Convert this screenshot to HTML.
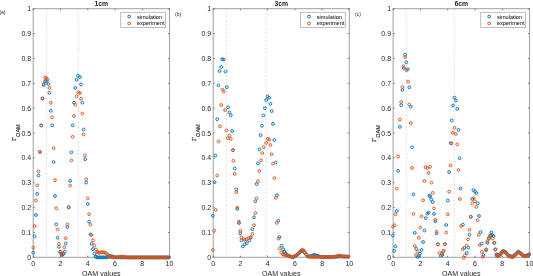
<!DOCTYPE html>
<html><head><meta charset="utf-8"><style>
html,body{margin:0;padding:0;background:#fff;width:533px;height:276px;overflow:hidden}
svg{display:block;font-family:"Liberation Sans", sans-serif;will-change:transform}
</style></head><body>
<svg width="533" height="276" viewBox="0 0 533 276">
<rect x="0" y="0" width="533" height="276" fill="#ffffff"/>
<g><line x1="46.69" y1="8.70" x2="46.69" y2="257.30" stroke="#d4d4d4" stroke-width="0.75" stroke-dasharray="2.0,1.9"/>
<line x1="78.32" y1="8.70" x2="78.32" y2="257.30" stroke="#d4d4d4" stroke-width="0.75" stroke-dasharray="2.0,1.9"/>
<rect x="33.20" y="8.70" width="136.30" height="248.60" fill="none" stroke="#a0a0a0" stroke-width="1"/>
<line x1="33.20" y1="257.30" x2="34.80" y2="257.30" stroke="#707070" stroke-width="0.9"/>
<line x1="169.50" y1="257.30" x2="167.90" y2="257.30" stroke="#707070" stroke-width="0.9"/>
<line x1="33.20" y1="232.44" x2="34.80" y2="232.44" stroke="#707070" stroke-width="0.9"/>
<line x1="169.50" y1="232.44" x2="167.90" y2="232.44" stroke="#707070" stroke-width="0.9"/>
<line x1="33.20" y1="207.58" x2="34.80" y2="207.58" stroke="#707070" stroke-width="0.9"/>
<line x1="169.50" y1="207.58" x2="167.90" y2="207.58" stroke="#707070" stroke-width="0.9"/>
<line x1="33.20" y1="182.72" x2="34.80" y2="182.72" stroke="#707070" stroke-width="0.9"/>
<line x1="169.50" y1="182.72" x2="167.90" y2="182.72" stroke="#707070" stroke-width="0.9"/>
<line x1="33.20" y1="157.86" x2="34.80" y2="157.86" stroke="#707070" stroke-width="0.9"/>
<line x1="169.50" y1="157.86" x2="167.90" y2="157.86" stroke="#707070" stroke-width="0.9"/>
<line x1="33.20" y1="133.00" x2="34.80" y2="133.00" stroke="#707070" stroke-width="0.9"/>
<line x1="169.50" y1="133.00" x2="167.90" y2="133.00" stroke="#707070" stroke-width="0.9"/>
<line x1="33.20" y1="108.14" x2="34.80" y2="108.14" stroke="#707070" stroke-width="0.9"/>
<line x1="169.50" y1="108.14" x2="167.90" y2="108.14" stroke="#707070" stroke-width="0.9"/>
<line x1="33.20" y1="83.28" x2="34.80" y2="83.28" stroke="#707070" stroke-width="0.9"/>
<line x1="169.50" y1="83.28" x2="167.90" y2="83.28" stroke="#707070" stroke-width="0.9"/>
<line x1="33.20" y1="58.42" x2="34.80" y2="58.42" stroke="#707070" stroke-width="0.9"/>
<line x1="169.50" y1="58.42" x2="167.90" y2="58.42" stroke="#707070" stroke-width="0.9"/>
<line x1="33.20" y1="33.56" x2="34.80" y2="33.56" stroke="#707070" stroke-width="0.9"/>
<line x1="169.50" y1="33.56" x2="167.90" y2="33.56" stroke="#707070" stroke-width="0.9"/>
<line x1="33.20" y1="8.70" x2="34.80" y2="8.70" stroke="#707070" stroke-width="0.9"/>
<line x1="169.50" y1="8.70" x2="167.90" y2="8.70" stroke="#707070" stroke-width="0.9"/>
<line x1="33.20" y1="257.30" x2="33.20" y2="255.70" stroke="#707070" stroke-width="0.9"/>
<line x1="33.20" y1="8.70" x2="33.20" y2="10.30" stroke="#707070" stroke-width="0.9"/>
<line x1="60.46" y1="257.30" x2="60.46" y2="255.70" stroke="#707070" stroke-width="0.9"/>
<line x1="60.46" y1="8.70" x2="60.46" y2="10.30" stroke="#707070" stroke-width="0.9"/>
<line x1="87.72" y1="257.30" x2="87.72" y2="255.70" stroke="#707070" stroke-width="0.9"/>
<line x1="87.72" y1="8.70" x2="87.72" y2="10.30" stroke="#707070" stroke-width="0.9"/>
<line x1="114.98" y1="257.30" x2="114.98" y2="255.70" stroke="#707070" stroke-width="0.9"/>
<line x1="114.98" y1="8.70" x2="114.98" y2="10.30" stroke="#707070" stroke-width="0.9"/>
<line x1="142.24" y1="257.30" x2="142.24" y2="255.70" stroke="#707070" stroke-width="0.9"/>
<line x1="142.24" y1="8.70" x2="142.24" y2="10.30" stroke="#707070" stroke-width="0.9"/>
<line x1="169.50" y1="257.30" x2="169.50" y2="255.70" stroke="#707070" stroke-width="0.9"/>
<line x1="169.50" y1="8.70" x2="169.50" y2="10.30" stroke="#707070" stroke-width="0.9"/>
<text x="31.20" y="259.90" text-anchor="end" font-size="7" fill="#262626">0</text>
<text x="31.20" y="235.04" text-anchor="end" font-size="7" fill="#262626">0.1</text>
<text x="31.20" y="210.18" text-anchor="end" font-size="7" fill="#262626">0.2</text>
<text x="31.20" y="185.32" text-anchor="end" font-size="7" fill="#262626">0.3</text>
<text x="31.20" y="160.46" text-anchor="end" font-size="7" fill="#262626">0.4</text>
<text x="31.20" y="135.60" text-anchor="end" font-size="7" fill="#262626">0.5</text>
<text x="31.20" y="110.74" text-anchor="end" font-size="7" fill="#262626">0.6</text>
<text x="31.20" y="85.88" text-anchor="end" font-size="7" fill="#262626">0.7</text>
<text x="31.20" y="61.02" text-anchor="end" font-size="7" fill="#262626">0.8</text>
<text x="31.20" y="36.16" text-anchor="end" font-size="7" fill="#262626">0.9</text>
<text x="31.20" y="11.30" text-anchor="end" font-size="7" fill="#262626">1</text>
<text x="33.20" y="266.00" text-anchor="middle" font-size="7" fill="#262626">0</text>
<text x="60.46" y="266.00" text-anchor="middle" font-size="7" fill="#262626">2</text>
<text x="87.72" y="266.00" text-anchor="middle" font-size="7" fill="#262626">4</text>
<text x="114.98" y="266.00" text-anchor="middle" font-size="7" fill="#262626">6</text>
<text x="142.24" y="266.00" text-anchor="middle" font-size="7" fill="#262626">8</text>
<text x="169.50" y="266.00" text-anchor="middle" font-size="7" fill="#262626">10</text>
<text x="101.35" y="275.5" text-anchor="middle" font-size="7.1" fill="#262626">OAM values</text>
<text x="101.35" y="5.5" text-anchor="middle" font-size="6.8" font-weight="bold" fill="#202020">1cm</text>
<g transform="translate(16.10,140.90) rotate(-90)"><text x="-0.2" y="0.1" font-size="6.6" font-family="Liberation Serif, serif" fill="#262626" stroke="#262626" stroke-width="0.2">Γ</text><text x="4.0" y="4.0" font-size="5.5" fill="#262626" stroke="#262626" stroke-width="0.1">OAM</text></g>
<text x="-0.60" y="14.10" font-size="5.0" fill="#262626">(a)</text>
<g fill="none" stroke="#0072BD" stroke-width="0.95"><circle cx="33.30" cy="252.60" r="1.4"/><circle cx="34.60" cy="236.30" r="1.4"/><circle cx="35.90" cy="215.00" r="1.4"/><circle cx="37.20" cy="193.80" r="1.4"/><circle cx="38.50" cy="175.60" r="1.4"/><circle cx="39.90" cy="151.80" r="1.4"/><circle cx="41.20" cy="125.40" r="1.4"/><circle cx="42.50" cy="98.50" r="1.4"/><circle cx="43.80" cy="85.00" r="1.4"/><circle cx="45.10" cy="81.10" r="1.4"/><circle cx="46.50" cy="81.40" r="1.4"/><circle cx="48.40" cy="84.00" r="1.4"/><circle cx="49.40" cy="92.90" r="1.4"/><circle cx="50.80" cy="110.80" r="1.4"/><circle cx="52.20" cy="125.30" r="1.4"/><circle cx="53.60" cy="162.10" r="1.4"/><circle cx="55.00" cy="196.00" r="1.4"/><circle cx="56.30" cy="224.40" r="1.4"/><circle cx="57.60" cy="237.75" r="1.4"/><circle cx="58.90" cy="246.80" r="1.4"/><circle cx="60.20" cy="252.00" r="1.4"/><circle cx="61.50" cy="254.50" r="1.4"/><circle cx="62.20" cy="255.00" r="1.4"/><circle cx="63.50" cy="254.00" r="1.4"/><circle cx="64.80" cy="251.70" r="1.4"/><circle cx="65.70" cy="243.40" r="1.4"/><circle cx="67.40" cy="227.10" r="1.4"/><circle cx="68.70" cy="207.30" r="1.4"/><circle cx="70.10" cy="180.90" r="1.4"/><circle cx="71.40" cy="152.30" r="1.4"/><circle cx="72.70" cy="125.30" r="1.4"/><circle cx="74.00" cy="102.70" r="1.4"/><circle cx="75.30" cy="88.00" r="1.4"/><circle cx="76.60" cy="79.80" r="1.4"/><circle cx="77.90" cy="75.60" r="1.4"/><circle cx="79.90" cy="77.10" r="1.4"/><circle cx="81.00" cy="84.40" r="1.4"/><circle cx="82.30" cy="102.70" r="1.4"/><circle cx="83.60" cy="129.50" r="1.4"/><circle cx="85.20" cy="159.20" r="1.4"/><circle cx="86.20" cy="182.60" r="1.4"/><circle cx="87.80" cy="203.90" r="1.4"/><circle cx="89.10" cy="221.60" r="1.4"/><circle cx="90.40" cy="234.40" r="1.4"/><circle cx="91.70" cy="243.90" r="1.4"/><circle cx="93.00" cy="249.00" r="1.4"/><circle cx="94.40" cy="253.60" r="1.4"/><circle cx="95.70" cy="256.30" r="1.4"/><circle cx="95.70" cy="256.70" r="1.4"/><circle cx="97.06" cy="257.40" r="1.4"/><circle cx="98.42" cy="257.40" r="1.4"/><circle cx="99.78" cy="257.40" r="1.4"/><circle cx="101.14" cy="257.40" r="1.4"/><circle cx="102.50" cy="257.40" r="1.4"/><circle cx="103.86" cy="257.40" r="1.4"/><circle cx="105.22" cy="257.40" r="1.4"/><circle cx="106.58" cy="257.40" r="1.4"/><circle cx="107.94" cy="257.05" r="1.4"/><circle cx="109.30" cy="256.54" r="1.4"/><circle cx="110.66" cy="256.03" r="1.4"/><circle cx="112.02" cy="256.28" r="1.4"/><circle cx="113.38" cy="256.79" r="1.4"/><circle cx="114.74" cy="257.30" r="1.4"/><circle cx="116.10" cy="257.40" r="1.4"/><circle cx="117.46" cy="257.40" r="1.4"/><circle cx="118.82" cy="257.40" r="1.4"/><circle cx="120.18" cy="257.40" r="1.4"/><circle cx="121.54" cy="257.40" r="1.4"/><circle cx="122.90" cy="257.40" r="1.4"/><circle cx="124.26" cy="257.40" r="1.4"/><circle cx="125.62" cy="257.40" r="1.4"/><circle cx="126.98" cy="257.40" r="1.4"/><circle cx="128.34" cy="257.40" r="1.4"/><circle cx="129.70" cy="257.40" r="1.4"/><circle cx="131.06" cy="257.40" r="1.4"/><circle cx="132.42" cy="257.40" r="1.4"/><circle cx="133.78" cy="257.40" r="1.4"/><circle cx="135.14" cy="257.40" r="1.4"/><circle cx="136.50" cy="257.40" r="1.4"/><circle cx="137.86" cy="257.40" r="1.4"/><circle cx="139.22" cy="257.40" r="1.4"/><circle cx="140.58" cy="257.40" r="1.4"/><circle cx="141.94" cy="257.40" r="1.4"/><circle cx="143.30" cy="257.40" r="1.4"/><circle cx="144.66" cy="257.40" r="1.4"/><circle cx="146.02" cy="257.40" r="1.4"/><circle cx="147.38" cy="257.40" r="1.4"/><circle cx="148.74" cy="257.40" r="1.4"/><circle cx="150.10" cy="257.40" r="1.4"/><circle cx="151.46" cy="257.40" r="1.4"/><circle cx="152.82" cy="257.40" r="1.4"/><circle cx="154.18" cy="257.40" r="1.4"/><circle cx="155.54" cy="257.40" r="1.4"/><circle cx="156.90" cy="257.40" r="1.4"/><circle cx="158.26" cy="257.40" r="1.4"/><circle cx="159.62" cy="257.40" r="1.4"/><circle cx="160.98" cy="257.40" r="1.4"/><circle cx="162.34" cy="257.40" r="1.4"/><circle cx="163.70" cy="257.40" r="1.4"/><circle cx="165.06" cy="257.40" r="1.4"/><circle cx="166.42" cy="257.40" r="1.4"/><circle cx="167.78" cy="257.40" r="1.4"/><circle cx="169.14" cy="257.40" r="1.4"/></g>
<g fill="none" stroke="#D95319" stroke-width="0.95"><circle cx="33.30" cy="247.70" r="1.4"/><circle cx="34.60" cy="226.00" r="1.4"/><circle cx="35.90" cy="200.40" r="1.4"/><circle cx="37.20" cy="185.40" r="1.4"/><circle cx="38.50" cy="171.30" r="1.4"/><circle cx="39.90" cy="152.00" r="1.4"/><circle cx="41.20" cy="125.40" r="1.4"/><circle cx="42.50" cy="98.50" r="1.4"/><circle cx="43.80" cy="84.00" r="1.4"/><circle cx="45.10" cy="77.50" r="1.4"/><circle cx="46.40" cy="78.50" r="1.4"/><circle cx="47.70" cy="79.50" r="1.4"/><circle cx="49.40" cy="88.00" r="1.4"/><circle cx="50.80" cy="102.70" r="1.4"/><circle cx="52.10" cy="117.30" r="1.4"/><circle cx="53.60" cy="148.20" r="1.4"/><circle cx="55.00" cy="180.20" r="1.4"/><circle cx="56.30" cy="208.20" r="1.4"/><circle cx="57.60" cy="229.40" r="1.4"/><circle cx="58.90" cy="243.80" r="1.4"/><circle cx="60.20" cy="251.70" r="1.4"/><circle cx="61.50" cy="253.60" r="1.4"/><circle cx="63.10" cy="253.40" r="1.4"/><circle cx="64.40" cy="247.30" r="1.4"/><circle cx="65.70" cy="238.30" r="1.4"/><circle cx="67.40" cy="224.40" r="1.4"/><circle cx="68.70" cy="207.30" r="1.4"/><circle cx="70.10" cy="185.50" r="1.4"/><circle cx="71.40" cy="160.50" r="1.4"/><circle cx="72.70" cy="136.80" r="1.4"/><circle cx="74.00" cy="116.00" r="1.4"/><circle cx="75.30" cy="104.70" r="1.4"/><circle cx="76.60" cy="96.30" r="1.4"/><circle cx="78.30" cy="92.30" r="1.4"/><circle cx="79.90" cy="93.00" r="1.4"/><circle cx="81.00" cy="98.70" r="1.4"/><circle cx="82.30" cy="113.60" r="1.4"/><circle cx="83.60" cy="134.40" r="1.4"/><circle cx="84.90" cy="155.50" r="1.4"/><circle cx="86.20" cy="179.20" r="1.4"/><circle cx="87.80" cy="198.40" r="1.4"/><circle cx="89.10" cy="214.20" r="1.4"/><circle cx="90.40" cy="224.70" r="1.4"/><circle cx="91.50" cy="235.00" r="1.4"/><circle cx="93.00" cy="240.30" r="1.4"/><circle cx="94.40" cy="245.50" r="1.4"/><circle cx="96.00" cy="249.50" r="1.4"/><circle cx="97.50" cy="251.70" r="1.4"/><circle cx="97.50" cy="252.30" r="1.4"/><circle cx="98.86" cy="252.84" r="1.4"/><circle cx="100.22" cy="252.58" r="1.4"/><circle cx="101.58" cy="252.27" r="1.4"/><circle cx="102.94" cy="252.15" r="1.4"/><circle cx="104.30" cy="252.41" r="1.4"/><circle cx="105.66" cy="252.95" r="1.4"/><circle cx="107.02" cy="254.22" r="1.4"/><circle cx="108.38" cy="255.58" r="1.4"/><circle cx="109.74" cy="256.44" r="1.4"/><circle cx="111.10" cy="257.08" r="1.4"/><circle cx="112.46" cy="257.48" r="1.4"/><circle cx="113.82" cy="257.41" r="1.4"/><circle cx="115.18" cy="257.34" r="1.4"/><circle cx="116.54" cy="257.27" r="1.4"/><circle cx="117.90" cy="257.21" r="1.4"/><circle cx="119.26" cy="256.97" r="1.4"/><circle cx="120.62" cy="256.71" r="1.4"/><circle cx="121.98" cy="256.46" r="1.4"/><circle cx="123.34" cy="256.64" r="1.4"/><circle cx="124.70" cy="256.96" r="1.4"/><circle cx="126.06" cy="257.28" r="1.4"/><circle cx="127.42" cy="257.50" r="1.4"/><circle cx="128.78" cy="257.50" r="1.4"/><circle cx="130.14" cy="257.50" r="1.4"/><circle cx="131.50" cy="257.50" r="1.4"/><circle cx="132.86" cy="257.50" r="1.4"/><circle cx="134.22" cy="257.50" r="1.4"/><circle cx="135.58" cy="257.50" r="1.4"/><circle cx="136.94" cy="257.50" r="1.4"/><circle cx="138.30" cy="257.50" r="1.4"/><circle cx="139.66" cy="257.50" r="1.4"/><circle cx="141.02" cy="257.50" r="1.4"/><circle cx="142.38" cy="257.50" r="1.4"/><circle cx="143.74" cy="257.50" r="1.4"/><circle cx="145.10" cy="257.50" r="1.4"/><circle cx="146.46" cy="257.50" r="1.4"/><circle cx="147.82" cy="257.50" r="1.4"/><circle cx="149.18" cy="257.50" r="1.4"/><circle cx="150.54" cy="257.50" r="1.4"/><circle cx="151.90" cy="257.50" r="1.4"/><circle cx="153.26" cy="257.50" r="1.4"/><circle cx="154.62" cy="257.50" r="1.4"/><circle cx="155.98" cy="257.50" r="1.4"/><circle cx="157.34" cy="257.50" r="1.4"/><circle cx="158.70" cy="257.50" r="1.4"/><circle cx="160.06" cy="257.50" r="1.4"/><circle cx="161.42" cy="257.50" r="1.4"/><circle cx="162.78" cy="257.50" r="1.4"/><circle cx="164.14" cy="257.50" r="1.4"/><circle cx="165.50" cy="257.50" r="1.4"/><circle cx="166.86" cy="257.50" r="1.4"/><circle cx="168.22" cy="257.50" r="1.4"/></g>
<rect x="120.70" y="12.30" width="44.8" height="15.1" fill="#ffffff" stroke="#b0b0b0" stroke-width="0.8"/>
<circle cx="129.20" cy="16.5" r="1.4" fill="none" stroke="#0072BD" stroke-width="0.95"/>
<circle cx="129.20" cy="23.4" r="1.4" fill="none" stroke="#D95319" stroke-width="0.95"/>
<text x="136.90" y="18.5" font-size="5.6" fill="#262626" stroke="#262626" stroke-width="0.06">simulation</text>
<text x="136.90" y="25.4" font-size="5.6" fill="#262626" stroke="#262626" stroke-width="0.06">experiment</text></g>
<g><line x1="226.40" y1="8.70" x2="226.40" y2="257.30" stroke="#d4d4d4" stroke-width="0.75" stroke-dasharray="2.0,1.9"/>
<line x1="266.14" y1="8.70" x2="266.14" y2="257.30" stroke="#d4d4d4" stroke-width="0.75" stroke-dasharray="2.0,1.9"/>
<rect x="213.20" y="8.70" width="136.10" height="248.60" fill="none" stroke="#a0a0a0" stroke-width="1"/>
<line x1="213.20" y1="257.30" x2="214.80" y2="257.30" stroke="#707070" stroke-width="0.9"/>
<line x1="349.30" y1="257.30" x2="347.70" y2="257.30" stroke="#707070" stroke-width="0.9"/>
<line x1="213.20" y1="232.44" x2="214.80" y2="232.44" stroke="#707070" stroke-width="0.9"/>
<line x1="349.30" y1="232.44" x2="347.70" y2="232.44" stroke="#707070" stroke-width="0.9"/>
<line x1="213.20" y1="207.58" x2="214.80" y2="207.58" stroke="#707070" stroke-width="0.9"/>
<line x1="349.30" y1="207.58" x2="347.70" y2="207.58" stroke="#707070" stroke-width="0.9"/>
<line x1="213.20" y1="182.72" x2="214.80" y2="182.72" stroke="#707070" stroke-width="0.9"/>
<line x1="349.30" y1="182.72" x2="347.70" y2="182.72" stroke="#707070" stroke-width="0.9"/>
<line x1="213.20" y1="157.86" x2="214.80" y2="157.86" stroke="#707070" stroke-width="0.9"/>
<line x1="349.30" y1="157.86" x2="347.70" y2="157.86" stroke="#707070" stroke-width="0.9"/>
<line x1="213.20" y1="133.00" x2="214.80" y2="133.00" stroke="#707070" stroke-width="0.9"/>
<line x1="349.30" y1="133.00" x2="347.70" y2="133.00" stroke="#707070" stroke-width="0.9"/>
<line x1="213.20" y1="108.14" x2="214.80" y2="108.14" stroke="#707070" stroke-width="0.9"/>
<line x1="349.30" y1="108.14" x2="347.70" y2="108.14" stroke="#707070" stroke-width="0.9"/>
<line x1="213.20" y1="83.28" x2="214.80" y2="83.28" stroke="#707070" stroke-width="0.9"/>
<line x1="349.30" y1="83.28" x2="347.70" y2="83.28" stroke="#707070" stroke-width="0.9"/>
<line x1="213.20" y1="58.42" x2="214.80" y2="58.42" stroke="#707070" stroke-width="0.9"/>
<line x1="349.30" y1="58.42" x2="347.70" y2="58.42" stroke="#707070" stroke-width="0.9"/>
<line x1="213.20" y1="33.56" x2="214.80" y2="33.56" stroke="#707070" stroke-width="0.9"/>
<line x1="349.30" y1="33.56" x2="347.70" y2="33.56" stroke="#707070" stroke-width="0.9"/>
<line x1="213.20" y1="8.70" x2="214.80" y2="8.70" stroke="#707070" stroke-width="0.9"/>
<line x1="349.30" y1="8.70" x2="347.70" y2="8.70" stroke="#707070" stroke-width="0.9"/>
<line x1="213.20" y1="257.30" x2="213.20" y2="255.70" stroke="#707070" stroke-width="0.9"/>
<line x1="213.20" y1="8.70" x2="213.20" y2="10.30" stroke="#707070" stroke-width="0.9"/>
<line x1="240.42" y1="257.30" x2="240.42" y2="255.70" stroke="#707070" stroke-width="0.9"/>
<line x1="240.42" y1="8.70" x2="240.42" y2="10.30" stroke="#707070" stroke-width="0.9"/>
<line x1="267.64" y1="257.30" x2="267.64" y2="255.70" stroke="#707070" stroke-width="0.9"/>
<line x1="267.64" y1="8.70" x2="267.64" y2="10.30" stroke="#707070" stroke-width="0.9"/>
<line x1="294.86" y1="257.30" x2="294.86" y2="255.70" stroke="#707070" stroke-width="0.9"/>
<line x1="294.86" y1="8.70" x2="294.86" y2="10.30" stroke="#707070" stroke-width="0.9"/>
<line x1="322.08" y1="257.30" x2="322.08" y2="255.70" stroke="#707070" stroke-width="0.9"/>
<line x1="322.08" y1="8.70" x2="322.08" y2="10.30" stroke="#707070" stroke-width="0.9"/>
<line x1="349.30" y1="257.30" x2="349.30" y2="255.70" stroke="#707070" stroke-width="0.9"/>
<line x1="349.30" y1="8.70" x2="349.30" y2="10.30" stroke="#707070" stroke-width="0.9"/>
<text x="211.20" y="259.90" text-anchor="end" font-size="7" fill="#262626">0</text>
<text x="211.20" y="235.04" text-anchor="end" font-size="7" fill="#262626">0.1</text>
<text x="211.20" y="210.18" text-anchor="end" font-size="7" fill="#262626">0.2</text>
<text x="211.20" y="185.32" text-anchor="end" font-size="7" fill="#262626">0.3</text>
<text x="211.20" y="160.46" text-anchor="end" font-size="7" fill="#262626">0.4</text>
<text x="211.20" y="135.60" text-anchor="end" font-size="7" fill="#262626">0.5</text>
<text x="211.20" y="110.74" text-anchor="end" font-size="7" fill="#262626">0.6</text>
<text x="211.20" y="85.88" text-anchor="end" font-size="7" fill="#262626">0.7</text>
<text x="211.20" y="61.02" text-anchor="end" font-size="7" fill="#262626">0.8</text>
<text x="211.20" y="36.16" text-anchor="end" font-size="7" fill="#262626">0.9</text>
<text x="211.20" y="11.30" text-anchor="end" font-size="7" fill="#262626">1</text>
<text x="213.20" y="266.00" text-anchor="middle" font-size="7" fill="#262626">0</text>
<text x="240.42" y="266.00" text-anchor="middle" font-size="7" fill="#262626">2</text>
<text x="267.64" y="266.00" text-anchor="middle" font-size="7" fill="#262626">4</text>
<text x="294.86" y="266.00" text-anchor="middle" font-size="7" fill="#262626">6</text>
<text x="322.08" y="266.00" text-anchor="middle" font-size="7" fill="#262626">8</text>
<text x="349.30" y="266.00" text-anchor="middle" font-size="7" fill="#262626">10</text>
<text x="281.25" y="275.5" text-anchor="middle" font-size="7.1" fill="#262626">OAM values</text>
<text x="281.25" y="5.5" text-anchor="middle" font-size="6.8" font-weight="bold" fill="#202020">3cm</text>
<g transform="translate(196.10,140.90) rotate(-90)"><text x="-0.2" y="0.1" font-size="6.6" font-family="Liberation Serif, serif" fill="#262626" stroke="#262626" stroke-width="0.2">Γ</text><text x="4.0" y="4.0" font-size="5.5" fill="#262626" stroke="#262626" stroke-width="0.1">OAM</text></g>
<text x="175.00" y="16.30" font-size="5.0" fill="#262626">(b)</text>
<g fill="none" stroke="#0072BD" stroke-width="0.95"><circle cx="212.90" cy="215.80" r="1.4"/><circle cx="214.60" cy="182.10" r="1.4"/><circle cx="215.30" cy="155.50" r="1.4"/><circle cx="217.20" cy="119.20" r="1.4"/><circle cx="218.50" cy="85.30" r="1.4"/><circle cx="219.50" cy="71.00" r="1.4"/><circle cx="221.20" cy="67.10" r="1.4"/><circle cx="222.10" cy="59.20" r="1.4"/><circle cx="223.80" cy="59.50" r="1.4"/><circle cx="225.50" cy="71.70" r="1.4"/><circle cx="226.80" cy="87.20" r="1.4"/><circle cx="228.10" cy="107.30" r="1.4"/><circle cx="229.40" cy="112.30" r="1.4"/><circle cx="230.80" cy="115.30" r="1.4"/><circle cx="232.10" cy="131.00" r="1.4"/><circle cx="233.00" cy="150.20" r="1.4"/><circle cx="234.70" cy="168.60" r="1.4"/><circle cx="236.30" cy="189.40" r="1.4"/><circle cx="237.30" cy="208.90" r="1.4"/><circle cx="238.90" cy="223.00" r="1.4"/><circle cx="240.20" cy="233.30" r="1.4"/><circle cx="241.50" cy="240.40" r="1.4"/><circle cx="242.80" cy="246.40" r="1.4"/><circle cx="244.80" cy="244.40" r="1.4"/><circle cx="246.80" cy="243.10" r="1.4"/><circle cx="249.40" cy="240.40" r="1.4"/><circle cx="250.70" cy="237.80" r="1.4"/><circle cx="252.30" cy="229.20" r="1.4"/><circle cx="254.00" cy="217.30" r="1.4"/><circle cx="255.30" cy="201.30" r="1.4"/><circle cx="256.60" cy="184.20" r="1.4"/><circle cx="258.00" cy="163.40" r="1.4"/><circle cx="259.30" cy="149.50" r="1.4"/><circle cx="260.60" cy="135.20" r="1.4"/><circle cx="261.90" cy="125.80" r="1.4"/><circle cx="263.40" cy="115.50" r="1.4"/><circle cx="264.90" cy="108.20" r="1.4"/><circle cx="266.20" cy="100.00" r="1.4"/><circle cx="267.50" cy="96.40" r="1.4"/><circle cx="269.10" cy="97.70" r="1.4"/><circle cx="270.40" cy="103.90" r="1.4"/><circle cx="271.70" cy="111.10" r="1.4"/><circle cx="273.00" cy="123.80" r="1.4"/><circle cx="274.40" cy="140.10" r="1.4"/><circle cx="275.70" cy="162.60" r="1.4"/><circle cx="277.00" cy="195.20" r="1.4"/><circle cx="278.30" cy="220.80" r="1.4"/><circle cx="279.40" cy="237.00" r="1.4"/><circle cx="281.60" cy="245.60" r="1.4"/><circle cx="283.10" cy="249.10" r="1.4"/><circle cx="284.40" cy="251.70" r="1.4"/><circle cx="284.40" cy="251.70" r="1.4"/><circle cx="285.76" cy="253.66" r="1.4"/><circle cx="287.12" cy="254.84" r="1.4"/><circle cx="288.48" cy="255.71" r="1.4"/><circle cx="289.84" cy="256.30" r="1.4"/><circle cx="291.20" cy="256.84" r="1.4"/><circle cx="292.56" cy="257.11" r="1.4"/><circle cx="293.92" cy="256.69" r="1.4"/><circle cx="295.28" cy="255.95" r="1.4"/><circle cx="296.64" cy="255.20" r="1.4"/><circle cx="298.00" cy="254.00" r="1.4"/><circle cx="299.36" cy="252.64" r="1.4"/><circle cx="300.72" cy="251.56" r="1.4"/><circle cx="302.08" cy="250.74" r="1.4"/><circle cx="303.44" cy="251.09" r="1.4"/><circle cx="304.80" cy="252.75" r="1.4"/><circle cx="306.16" cy="254.47" r="1.4"/><circle cx="307.52" cy="256.19" r="1.4"/><circle cx="308.88" cy="256.57" r="1.4"/><circle cx="310.24" cy="256.20" r="1.4"/><circle cx="311.60" cy="255.80" r="1.4"/><circle cx="312.96" cy="255.35" r="1.4"/><circle cx="314.32" cy="254.89" r="1.4"/><circle cx="315.68" cy="255.18" r="1.4"/><circle cx="317.04" cy="255.66" r="1.4"/><circle cx="318.40" cy="256.10" r="1.4"/><circle cx="319.76" cy="256.44" r="1.4"/><circle cx="321.12" cy="256.78" r="1.4"/><circle cx="322.48" cy="257.00" r="1.4"/><circle cx="323.84" cy="257.00" r="1.4"/><circle cx="325.20" cy="257.00" r="1.4"/><circle cx="326.56" cy="257.00" r="1.4"/><circle cx="327.92" cy="257.00" r="1.4"/><circle cx="329.28" cy="257.00" r="1.4"/><circle cx="330.64" cy="256.97" r="1.4"/><circle cx="332.00" cy="256.90" r="1.4"/><circle cx="333.36" cy="256.83" r="1.4"/><circle cx="334.72" cy="256.76" r="1.4"/><circle cx="336.08" cy="256.70" r="1.4"/><circle cx="337.44" cy="256.63" r="1.4"/><circle cx="338.80" cy="256.56" r="1.4"/><circle cx="340.16" cy="256.50" r="1.4"/><circle cx="341.52" cy="256.50" r="1.4"/><circle cx="342.88" cy="256.50" r="1.4"/><circle cx="344.24" cy="256.50" r="1.4"/><circle cx="345.60" cy="256.50" r="1.4"/><circle cx="346.96" cy="256.50" r="1.4"/><circle cx="348.32" cy="256.50" r="1.4"/></g>
<g fill="none" stroke="#D95319" stroke-width="0.95"><circle cx="212.90" cy="249.90" r="1.4"/><circle cx="214.20" cy="230.50" r="1.4"/><circle cx="215.50" cy="209.90" r="1.4"/><circle cx="217.20" cy="175.50" r="1.4"/><circle cx="218.50" cy="141.50" r="1.4"/><circle cx="219.90" cy="126.40" r="1.4"/><circle cx="221.20" cy="105.00" r="1.4"/><circle cx="222.50" cy="89.50" r="1.4"/><circle cx="223.80" cy="91.60" r="1.4"/><circle cx="225.10" cy="110.00" r="1.4"/><circle cx="226.40" cy="130.40" r="1.4"/><circle cx="227.70" cy="138.20" r="1.4"/><circle cx="229.40" cy="135.60" r="1.4"/><circle cx="230.80" cy="138.90" r="1.4"/><circle cx="233.00" cy="150.20" r="1.4"/><circle cx="233.40" cy="160.80" r="1.4"/><circle cx="234.70" cy="173.90" r="1.4"/><circle cx="236.30" cy="192.10" r="1.4"/><circle cx="237.30" cy="207.60" r="1.4"/><circle cx="238.90" cy="221.70" r="1.4"/><circle cx="240.20" cy="230.90" r="1.4"/><circle cx="241.50" cy="237.20" r="1.4"/><circle cx="243.50" cy="239.10" r="1.4"/><circle cx="244.80" cy="239.80" r="1.4"/><circle cx="246.80" cy="239.10" r="1.4"/><circle cx="248.70" cy="237.80" r="1.4"/><circle cx="250.70" cy="237.20" r="1.4"/><circle cx="252.50" cy="233.90" r="1.4"/><circle cx="254.00" cy="225.20" r="1.4"/><circle cx="255.30" cy="213.10" r="1.4"/><circle cx="256.60" cy="198.20" r="1.4"/><circle cx="257.90" cy="181.20" r="1.4"/><circle cx="259.30" cy="170.90" r="1.4"/><circle cx="261.00" cy="160.40" r="1.4"/><circle cx="262.30" cy="153.10" r="1.4"/><circle cx="263.80" cy="147.20" r="1.4"/><circle cx="266.20" cy="142.90" r="1.4"/><circle cx="267.80" cy="138.90" r="1.4"/><circle cx="269.10" cy="139.60" r="1.4"/><circle cx="270.40" cy="145.00" r="1.4"/><circle cx="271.70" cy="154.20" r="1.4"/><circle cx="273.00" cy="163.60" r="1.4"/><circle cx="274.40" cy="178.10" r="1.4"/><circle cx="275.70" cy="197.80" r="1.4"/><circle cx="276.80" cy="222.90" r="1.4"/><circle cx="278.50" cy="238.60" r="1.4"/><circle cx="279.50" cy="248.40" r="1.4"/><circle cx="281.20" cy="252.40" r="1.4"/><circle cx="283.10" cy="254.40" r="1.4"/><circle cx="283.10" cy="254.40" r="1.4"/><circle cx="284.46" cy="254.82" r="1.4"/><circle cx="285.82" cy="255.24" r="1.4"/><circle cx="287.18" cy="255.58" r="1.4"/><circle cx="288.54" cy="255.89" r="1.4"/><circle cx="289.90" cy="256.27" r="1.4"/><circle cx="291.26" cy="256.68" r="1.4"/><circle cx="292.62" cy="257.09" r="1.4"/><circle cx="293.98" cy="256.66" r="1.4"/><circle cx="295.34" cy="255.91" r="1.4"/><circle cx="296.70" cy="255.16" r="1.4"/><circle cx="298.06" cy="253.76" r="1.4"/><circle cx="299.42" cy="252.18" r="1.4"/><circle cx="300.78" cy="250.91" r="1.4"/><circle cx="302.14" cy="249.88" r="1.4"/><circle cx="303.50" cy="250.21" r="1.4"/><circle cx="304.86" cy="252.29" r="1.4"/><circle cx="306.22" cy="254.24" r="1.4"/><circle cx="307.58" cy="256.19" r="1.4"/><circle cx="308.94" cy="256.64" r="1.4"/><circle cx="310.30" cy="256.80" r="1.4"/><circle cx="311.66" cy="256.96" r="1.4"/><circle cx="313.02" cy="257.00" r="1.4"/><circle cx="314.38" cy="257.00" r="1.4"/><circle cx="315.74" cy="257.00" r="1.4"/><circle cx="317.10" cy="257.00" r="1.4"/><circle cx="318.46" cy="257.00" r="1.4"/><circle cx="319.82" cy="257.00" r="1.4"/><circle cx="321.18" cy="257.02" r="1.4"/><circle cx="322.54" cy="257.05" r="1.4"/><circle cx="323.90" cy="257.08" r="1.4"/><circle cx="325.26" cy="257.11" r="1.4"/><circle cx="326.62" cy="257.13" r="1.4"/><circle cx="327.98" cy="257.16" r="1.4"/><circle cx="329.34" cy="257.19" r="1.4"/><circle cx="330.70" cy="257.12" r="1.4"/><circle cx="332.06" cy="256.96" r="1.4"/><circle cx="333.42" cy="256.80" r="1.4"/><circle cx="334.78" cy="256.64" r="1.4"/><circle cx="336.14" cy="256.45" r="1.4"/><circle cx="337.50" cy="256.00" r="1.4"/><circle cx="338.86" cy="255.55" r="1.4"/><circle cx="340.22" cy="255.81" r="1.4"/><circle cx="341.58" cy="256.15" r="1.4"/><circle cx="342.94" cy="256.49" r="1.4"/><circle cx="344.30" cy="256.60" r="1.4"/><circle cx="345.66" cy="256.71" r="1.4"/><circle cx="347.02" cy="256.82" r="1.4"/><circle cx="348.38" cy="256.93" r="1.4"/></g>
<rect x="300.50" y="12.30" width="44.8" height="15.1" fill="#ffffff" stroke="#b0b0b0" stroke-width="0.8"/>
<circle cx="309.00" cy="16.5" r="1.4" fill="none" stroke="#0072BD" stroke-width="0.95"/>
<circle cx="309.00" cy="23.4" r="1.4" fill="none" stroke="#D95319" stroke-width="0.95"/>
<text x="316.70" y="18.5" font-size="5.6" fill="#262626" stroke="#262626" stroke-width="0.06">simulation</text>
<text x="316.70" y="25.4" font-size="5.6" fill="#262626" stroke="#262626" stroke-width="0.06">experiment</text></g>
<g><line x1="406.19" y1="8.70" x2="406.19" y2="257.30" stroke="#d4d4d4" stroke-width="0.75" stroke-dasharray="2.0,1.9"/>
<line x1="454.34" y1="8.70" x2="454.34" y2="257.30" stroke="#d4d4d4" stroke-width="0.75" stroke-dasharray="2.0,1.9"/>
<rect x="393.10" y="8.70" width="136.40" height="248.60" fill="none" stroke="#a0a0a0" stroke-width="1"/>
<line x1="393.10" y1="257.30" x2="394.70" y2="257.30" stroke="#707070" stroke-width="0.9"/>
<line x1="529.50" y1="257.30" x2="527.90" y2="257.30" stroke="#707070" stroke-width="0.9"/>
<line x1="393.10" y1="232.44" x2="394.70" y2="232.44" stroke="#707070" stroke-width="0.9"/>
<line x1="529.50" y1="232.44" x2="527.90" y2="232.44" stroke="#707070" stroke-width="0.9"/>
<line x1="393.10" y1="207.58" x2="394.70" y2="207.58" stroke="#707070" stroke-width="0.9"/>
<line x1="529.50" y1="207.58" x2="527.90" y2="207.58" stroke="#707070" stroke-width="0.9"/>
<line x1="393.10" y1="182.72" x2="394.70" y2="182.72" stroke="#707070" stroke-width="0.9"/>
<line x1="529.50" y1="182.72" x2="527.90" y2="182.72" stroke="#707070" stroke-width="0.9"/>
<line x1="393.10" y1="157.86" x2="394.70" y2="157.86" stroke="#707070" stroke-width="0.9"/>
<line x1="529.50" y1="157.86" x2="527.90" y2="157.86" stroke="#707070" stroke-width="0.9"/>
<line x1="393.10" y1="133.00" x2="394.70" y2="133.00" stroke="#707070" stroke-width="0.9"/>
<line x1="529.50" y1="133.00" x2="527.90" y2="133.00" stroke="#707070" stroke-width="0.9"/>
<line x1="393.10" y1="108.14" x2="394.70" y2="108.14" stroke="#707070" stroke-width="0.9"/>
<line x1="529.50" y1="108.14" x2="527.90" y2="108.14" stroke="#707070" stroke-width="0.9"/>
<line x1="393.10" y1="83.28" x2="394.70" y2="83.28" stroke="#707070" stroke-width="0.9"/>
<line x1="529.50" y1="83.28" x2="527.90" y2="83.28" stroke="#707070" stroke-width="0.9"/>
<line x1="393.10" y1="58.42" x2="394.70" y2="58.42" stroke="#707070" stroke-width="0.9"/>
<line x1="529.50" y1="58.42" x2="527.90" y2="58.42" stroke="#707070" stroke-width="0.9"/>
<line x1="393.10" y1="33.56" x2="394.70" y2="33.56" stroke="#707070" stroke-width="0.9"/>
<line x1="529.50" y1="33.56" x2="527.90" y2="33.56" stroke="#707070" stroke-width="0.9"/>
<line x1="393.10" y1="8.70" x2="394.70" y2="8.70" stroke="#707070" stroke-width="0.9"/>
<line x1="529.50" y1="8.70" x2="527.90" y2="8.70" stroke="#707070" stroke-width="0.9"/>
<line x1="393.10" y1="257.30" x2="393.10" y2="255.70" stroke="#707070" stroke-width="0.9"/>
<line x1="393.10" y1="8.70" x2="393.10" y2="10.30" stroke="#707070" stroke-width="0.9"/>
<line x1="420.38" y1="257.30" x2="420.38" y2="255.70" stroke="#707070" stroke-width="0.9"/>
<line x1="420.38" y1="8.70" x2="420.38" y2="10.30" stroke="#707070" stroke-width="0.9"/>
<line x1="447.66" y1="257.30" x2="447.66" y2="255.70" stroke="#707070" stroke-width="0.9"/>
<line x1="447.66" y1="8.70" x2="447.66" y2="10.30" stroke="#707070" stroke-width="0.9"/>
<line x1="474.94" y1="257.30" x2="474.94" y2="255.70" stroke="#707070" stroke-width="0.9"/>
<line x1="474.94" y1="8.70" x2="474.94" y2="10.30" stroke="#707070" stroke-width="0.9"/>
<line x1="502.22" y1="257.30" x2="502.22" y2="255.70" stroke="#707070" stroke-width="0.9"/>
<line x1="502.22" y1="8.70" x2="502.22" y2="10.30" stroke="#707070" stroke-width="0.9"/>
<line x1="529.50" y1="257.30" x2="529.50" y2="255.70" stroke="#707070" stroke-width="0.9"/>
<line x1="529.50" y1="8.70" x2="529.50" y2="10.30" stroke="#707070" stroke-width="0.9"/>
<text x="391.10" y="259.90" text-anchor="end" font-size="7" fill="#262626">0</text>
<text x="391.10" y="235.04" text-anchor="end" font-size="7" fill="#262626">0.1</text>
<text x="391.10" y="210.18" text-anchor="end" font-size="7" fill="#262626">0.2</text>
<text x="391.10" y="185.32" text-anchor="end" font-size="7" fill="#262626">0.3</text>
<text x="391.10" y="160.46" text-anchor="end" font-size="7" fill="#262626">0.4</text>
<text x="391.10" y="135.60" text-anchor="end" font-size="7" fill="#262626">0.5</text>
<text x="391.10" y="110.74" text-anchor="end" font-size="7" fill="#262626">0.6</text>
<text x="391.10" y="85.88" text-anchor="end" font-size="7" fill="#262626">0.7</text>
<text x="391.10" y="61.02" text-anchor="end" font-size="7" fill="#262626">0.8</text>
<text x="391.10" y="36.16" text-anchor="end" font-size="7" fill="#262626">0.9</text>
<text x="391.10" y="11.30" text-anchor="end" font-size="7" fill="#262626">1</text>
<text x="393.10" y="266.00" text-anchor="middle" font-size="7" fill="#262626">0</text>
<text x="420.38" y="266.00" text-anchor="middle" font-size="7" fill="#262626">2</text>
<text x="447.66" y="266.00" text-anchor="middle" font-size="7" fill="#262626">4</text>
<text x="474.94" y="266.00" text-anchor="middle" font-size="7" fill="#262626">6</text>
<text x="502.22" y="266.00" text-anchor="middle" font-size="7" fill="#262626">8</text>
<text x="529.50" y="266.00" text-anchor="middle" font-size="7" fill="#262626">10</text>
<text x="461.30" y="275.5" text-anchor="middle" font-size="7.1" fill="#262626">OAM values</text>
<text x="461.30" y="5.5" text-anchor="middle" font-size="6.8" font-weight="bold" fill="#202020">6cm</text>
<g transform="translate(376.00,141.80) rotate(-90)"><text x="-0.2" y="0.1" font-size="6.6" font-family="Liberation Serif, serif" fill="#262626" stroke="#262626" stroke-width="0.2">Γ</text><text x="4.0" y="4.0" font-size="5.5" fill="#262626" stroke="#262626" stroke-width="0.1">OAM</text></g>
<text x="355.00" y="16.30" font-size="5.0" fill="#262626">(c)</text>
<g fill="none" stroke="#0072BD" stroke-width="0.95"><circle cx="392.90" cy="235.50" r="1.4"/><circle cx="394.20" cy="250.80" r="1.4"/><circle cx="395.50" cy="246.40" r="1.4"/><circle cx="396.80" cy="211.00" r="1.4"/><circle cx="398.10" cy="170.80" r="1.4"/><circle cx="399.90" cy="126.90" r="1.4"/><circle cx="401.20" cy="105.20" r="1.4"/><circle cx="402.50" cy="90.00" r="1.4"/><circle cx="403.80" cy="68.00" r="1.4"/><circle cx="405.10" cy="54.70" r="1.4"/><circle cx="406.40" cy="62.30" r="1.4"/><circle cx="407.70" cy="69.20" r="1.4"/><circle cx="409.40" cy="87.30" r="1.4"/><circle cx="410.80" cy="106.60" r="1.4"/><circle cx="412.10" cy="147.30" r="1.4"/><circle cx="413.40" cy="194.30" r="1.4"/><circle cx="414.70" cy="232.90" r="1.4"/><circle cx="416.30" cy="248.80" r="1.4"/><circle cx="417.60" cy="257.00" r="1.4"/><circle cx="418.90" cy="256.00" r="1.4"/><circle cx="419.90" cy="253.60" r="1.4"/><circle cx="421.50" cy="249.90" r="1.4"/><circle cx="423.10" cy="242.00" r="1.4"/><circle cx="424.40" cy="230.50" r="1.4"/><circle cx="425.70" cy="218.20" r="1.4"/><circle cx="427.40" cy="213.60" r="1.4"/><circle cx="428.70" cy="212.60" r="1.4"/><circle cx="429.40" cy="195.50" r="1.4"/><circle cx="430.10" cy="196.30" r="1.4"/><circle cx="431.40" cy="199.50" r="1.4"/><circle cx="432.70" cy="202.10" r="1.4"/><circle cx="434.00" cy="213.90" r="1.4"/><circle cx="435.30" cy="221.20" r="1.4"/><circle cx="436.60" cy="233.40" r="1.4"/><circle cx="437.90" cy="244.40" r="1.4"/><circle cx="440.60" cy="255.70" r="1.4"/><circle cx="442.30" cy="255.00" r="1.4"/><circle cx="444.90" cy="244.20" r="1.4"/><circle cx="446.20" cy="225.00" r="1.4"/><circle cx="447.80" cy="200.50" r="1.4"/><circle cx="449.10" cy="172.10" r="1.4"/><circle cx="450.70" cy="143.20" r="1.4"/><circle cx="451.70" cy="120.50" r="1.4"/><circle cx="453.00" cy="105.50" r="1.4"/><circle cx="454.40" cy="97.60" r="1.4"/><circle cx="455.90" cy="100.50" r="1.4"/><circle cx="457.20" cy="108.90" r="1.4"/><circle cx="458.50" cy="129.90" r="1.4"/><circle cx="459.60" cy="158.30" r="1.4"/><circle cx="460.50" cy="188.50" r="1.4"/><circle cx="462.90" cy="224.70" r="1.4"/><circle cx="464.30" cy="247.90" r="1.4"/><circle cx="466.80" cy="253.00" r="1.4"/><circle cx="468.40" cy="247.60" r="1.4"/><circle cx="469.40" cy="234.70" r="1.4"/><circle cx="470.80" cy="216.80" r="1.4"/><circle cx="472.30" cy="199.00" r="1.4"/><circle cx="473.40" cy="190.20" r="1.4"/><circle cx="475.00" cy="191.60" r="1.4"/><circle cx="476.50" cy="193.10" r="1.4"/><circle cx="477.80" cy="203.40" r="1.4"/><circle cx="479.00" cy="216.00" r="1.4"/><circle cx="480.50" cy="232.10" r="1.4"/><circle cx="481.70" cy="243.60" r="1.4"/><circle cx="483.50" cy="255.00" r="1.4"/><circle cx="486.10" cy="249.40" r="1.4"/><circle cx="487.40" cy="242.80" r="1.4"/><circle cx="489.00" cy="238.00" r="1.4"/><circle cx="490.50" cy="235.10" r="1.4"/><circle cx="491.40" cy="232.30" r="1.4"/><circle cx="492.00" cy="235.00" r="1.4"/><circle cx="493.60" cy="236.00" r="1.4"/><circle cx="494.40" cy="243.00" r="1.4"/><circle cx="495.20" cy="249.70" r="1.4"/><circle cx="496.70" cy="255.40" r="1.4"/><circle cx="496.50" cy="254.30" r="1.4"/><circle cx="497.86" cy="255.32" r="1.4"/><circle cx="499.22" cy="254.85" r="1.4"/><circle cx="500.58" cy="253.66" r="1.4"/><circle cx="501.94" cy="251.92" r="1.4"/><circle cx="503.30" cy="250.88" r="1.4"/><circle cx="504.66" cy="251.51" r="1.4"/><circle cx="506.02" cy="252.52" r="1.4"/><circle cx="507.38" cy="254.16" r="1.4"/><circle cx="508.74" cy="255.57" r="1.4"/><circle cx="510.10" cy="255.97" r="1.4"/><circle cx="511.46" cy="256.37" r="1.4"/><circle cx="512.82" cy="256.53" r="1.4"/><circle cx="514.18" cy="255.45" r="1.4"/><circle cx="515.54" cy="254.36" r="1.4"/><circle cx="516.90" cy="252.90" r="1.4"/><circle cx="518.26" cy="251.54" r="1.4"/><circle cx="519.62" cy="252.46" r="1.4"/><circle cx="520.98" cy="253.39" r="1.4"/><circle cx="522.34" cy="254.56" r="1.4"/><circle cx="523.70" cy="255.73" r="1.4"/><circle cx="525.06" cy="255.71" r="1.4"/><circle cx="526.42" cy="255.49" r="1.4"/><circle cx="527.78" cy="254.93" r="1.4"/><circle cx="529.14" cy="254.12" r="1.4"/></g>
<g fill="none" stroke="#D95319" stroke-width="0.95"><circle cx="392.90" cy="226.60" r="1.4"/><circle cx="394.60" cy="225.30" r="1.4"/><circle cx="395.50" cy="214.30" r="1.4"/><circle cx="396.80" cy="188.60" r="1.4"/><circle cx="398.10" cy="156.50" r="1.4"/><circle cx="399.90" cy="119.70" r="1.4"/><circle cx="401.20" cy="102.10" r="1.4"/><circle cx="402.50" cy="87.10" r="1.4"/><circle cx="403.40" cy="66.30" r="1.4"/><circle cx="405.10" cy="57.10" r="1.4"/><circle cx="406.40" cy="70.20" r="1.4"/><circle cx="408.10" cy="81.60" r="1.4"/><circle cx="409.20" cy="104.50" r="1.4"/><circle cx="410.80" cy="123.00" r="1.4"/><circle cx="412.10" cy="167.90" r="1.4"/><circle cx="413.40" cy="213.90" r="1.4"/><circle cx="414.70" cy="246.00" r="1.4"/><circle cx="416.00" cy="255.10" r="1.4"/><circle cx="417.60" cy="251.40" r="1.4"/><circle cx="418.90" cy="237.80" r="1.4"/><circle cx="420.20" cy="227.60" r="1.4"/><circle cx="421.50" cy="216.30" r="1.4"/><circle cx="423.10" cy="200.20" r="1.4"/><circle cx="424.40" cy="181.00" r="1.4"/><circle cx="425.50" cy="167.20" r="1.4"/><circle cx="427.40" cy="168.10" r="1.4"/><circle cx="428.40" cy="172.90" r="1.4"/><circle cx="430.10" cy="166.80" r="1.4"/><circle cx="431.40" cy="182.60" r="1.4"/><circle cx="432.70" cy="192.85" r="1.4"/><circle cx="434.00" cy="208.40" r="1.4"/><circle cx="435.30" cy="219.80" r="1.4"/><circle cx="436.60" cy="231.60" r="1.4"/><circle cx="437.90" cy="244.40" r="1.4"/><circle cx="439.60" cy="252.80" r="1.4"/><circle cx="441.90" cy="253.70" r="1.4"/><circle cx="443.20" cy="251.50" r="1.4"/><circle cx="443.80" cy="250.60" r="1.4"/><circle cx="444.90" cy="244.20" r="1.4"/><circle cx="446.20" cy="232.50" r="1.4"/><circle cx="447.80" cy="214.30" r="1.4"/><circle cx="449.10" cy="191.70" r="1.4"/><circle cx="450.40" cy="165.40" r="1.4"/><circle cx="451.50" cy="143.40" r="1.4"/><circle cx="452.90" cy="132.90" r="1.4"/><circle cx="454.50" cy="127.80" r="1.4"/><circle cx="455.80" cy="133.90" r="1.4"/><circle cx="457.20" cy="144.40" r="1.4"/><circle cx="458.50" cy="170.00" r="1.4"/><circle cx="459.90" cy="199.00" r="1.4"/><circle cx="461.20" cy="226.00" r="1.4"/><circle cx="462.80" cy="249.10" r="1.4"/><circle cx="463.70" cy="257.70" r="1.4"/><circle cx="464.80" cy="255.40" r="1.4"/><circle cx="466.60" cy="245.50" r="1.4"/><circle cx="468.00" cy="239.30" r="1.4"/><circle cx="469.40" cy="229.70" r="1.4"/><circle cx="470.60" cy="216.80" r="1.4"/><circle cx="472.30" cy="203.40" r="1.4"/><circle cx="473.60" cy="198.10" r="1.4"/><circle cx="475.00" cy="201.30" r="1.4"/><circle cx="476.30" cy="206.90" r="1.4"/><circle cx="477.60" cy="220.20" r="1.4"/><circle cx="478.80" cy="234.90" r="1.4"/><circle cx="479.90" cy="245.00" r="1.4"/><circle cx="481.90" cy="251.90" r="1.4"/><circle cx="482.70" cy="256.90" r="1.4"/><circle cx="486.10" cy="250.40" r="1.4"/><circle cx="487.40" cy="241.30" r="1.4"/><circle cx="488.70" cy="238.90" r="1.4"/><circle cx="490.10" cy="235.60" r="1.4"/><circle cx="492.80" cy="238.50" r="1.4"/><circle cx="494.40" cy="242.60" r="1.4"/><circle cx="495.50" cy="249.10" r="1.4"/><circle cx="497.50" cy="256.10" r="1.4"/><circle cx="496.50" cy="254.90" r="1.4"/><circle cx="497.86" cy="255.92" r="1.4"/><circle cx="499.22" cy="255.45" r="1.4"/><circle cx="500.58" cy="254.26" r="1.4"/><circle cx="501.94" cy="252.52" r="1.4"/><circle cx="503.30" cy="251.48" r="1.4"/><circle cx="504.66" cy="252.11" r="1.4"/><circle cx="506.02" cy="253.12" r="1.4"/><circle cx="507.38" cy="254.76" r="1.4"/><circle cx="508.74" cy="256.17" r="1.4"/><circle cx="510.10" cy="256.57" r="1.4"/><circle cx="511.46" cy="256.97" r="1.4"/><circle cx="512.82" cy="257.13" r="1.4"/><circle cx="514.18" cy="256.05" r="1.4"/><circle cx="515.54" cy="254.96" r="1.4"/><circle cx="516.90" cy="253.50" r="1.4"/><circle cx="518.26" cy="252.14" r="1.4"/><circle cx="519.62" cy="253.06" r="1.4"/><circle cx="520.98" cy="253.99" r="1.4"/><circle cx="522.34" cy="255.16" r="1.4"/><circle cx="523.70" cy="256.33" r="1.4"/><circle cx="525.06" cy="256.31" r="1.4"/><circle cx="526.42" cy="256.09" r="1.4"/><circle cx="527.78" cy="255.53" r="1.4"/><circle cx="529.14" cy="254.72" r="1.4"/></g>
<rect x="480.70" y="12.30" width="44.8" height="15.1" fill="#ffffff" stroke="#b0b0b0" stroke-width="0.8"/>
<circle cx="489.20" cy="16.5" r="1.4" fill="none" stroke="#0072BD" stroke-width="0.95"/>
<circle cx="489.20" cy="23.4" r="1.4" fill="none" stroke="#D95319" stroke-width="0.95"/>
<text x="496.90" y="18.5" font-size="5.6" fill="#262626" stroke="#262626" stroke-width="0.06">simulation</text>
<text x="496.90" y="25.4" font-size="5.6" fill="#262626" stroke="#262626" stroke-width="0.06">experiment</text></g>
</svg>
</body></html>
